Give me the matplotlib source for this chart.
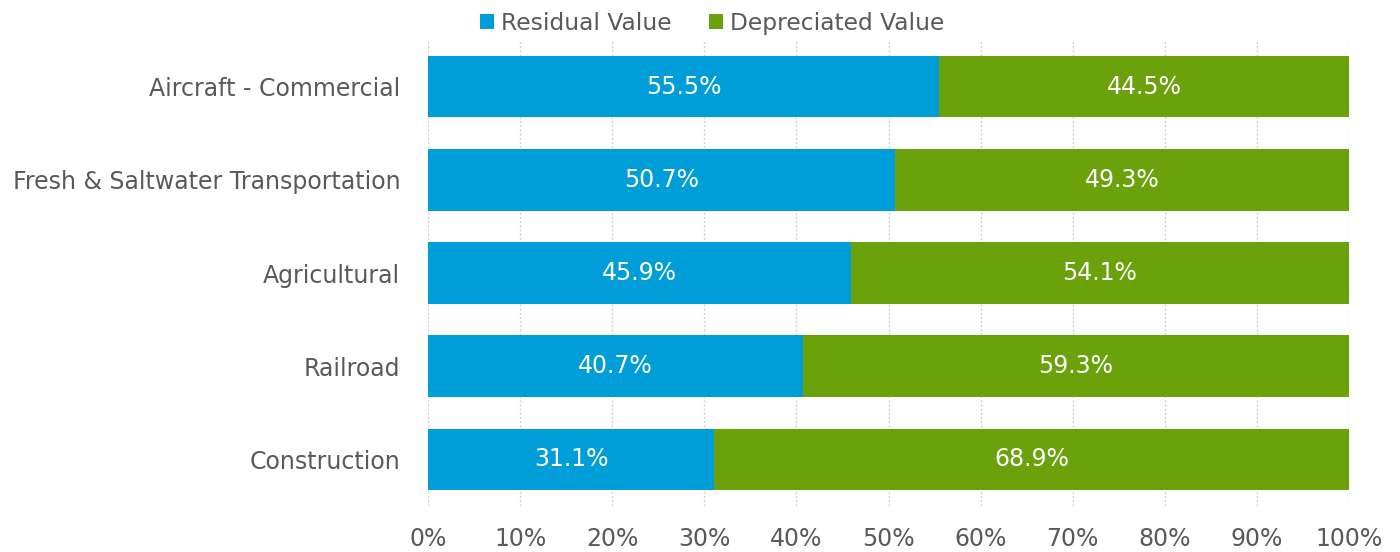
import matplotlib
matplotlib.use("Agg")
import matplotlib.pyplot as plt
import numpy as np

# Anteil Restwert / abgeschriebener Wert je Anlagekategorie
categories = ["Aircraft - Commercial", "Fresh & Saltwater Transportation",
              "Agricultural", "Railroad", "Construction"]
residual = [55.5, 50.7, 45.9, 40.7, 31.1]
depreciated = [44.5, 49.3, 54.1, 59.3, 68.9]
series_names = ["Residual Value", "Depreciated Value"]
xticks = [0, 10, 20, 30, 40, 50, 60, 70, 80, 90, 100]

blue = "#009ED8"
green = "#6BA10B"
text_col = "#595959"

plt.rcParams['font.family'] = ['DejaVu Sans']

fig = plt.figure(figsize=(14, 5.52), dpi=100)
ax = fig.add_axes([0.3057, 0.0833, 0.6579, 0.8442])

y = np.arange(len(categories))
h = 0.66
b1 = ax.barh(y, residual, height=h, color=blue, label=series_names[0])
b2 = ax.barh(y, depreciated, left=residual, height=h, color=green, label=series_names[1])

for bars, vals in ((b1, residual), (b2, depreciated)):
    for rect, v in zip(bars, vals):
        ax.text(rect.get_x() + rect.get_width() / 2, rect.get_y() + rect.get_height() / 2,
                f"{v:.1f}%", ha="center", va="center", color="white", fontsize=17)

ax.set_ylim(len(categories) - 0.5, -0.5)
ax.set_xlim(0, 100)
ax.set_yticks(y)
ax.set_yticklabels(categories, fontsize=17, color=text_col)
ax.set_xticks(xticks)
ax.set_xticklabels([f"{t}%" for t in xticks], fontsize=17, color=text_col)
ax.tick_params(axis="y", length=0, pad=20)
ax.tick_params(axis="x", length=0, pad=15)

ax.grid(axis="x", color="#D0D0D0", linestyle=(0, (1.5, 1.5)), linewidth=1)
ax.set_axisbelow(True)
for s in ax.spines.values():
    s.set_visible(False)

ax.legend(loc="center", bbox_to_anchor=(0.309, 1.036), ncol=2, frameon=False,
          fontsize=16.8, labelcolor=text_col, handlelength=0.6, handleheight=0.6,
          handletextpad=0.3, columnspacing=1.6, borderaxespad=0)

fig.savefig("out.png", dpi=100)
